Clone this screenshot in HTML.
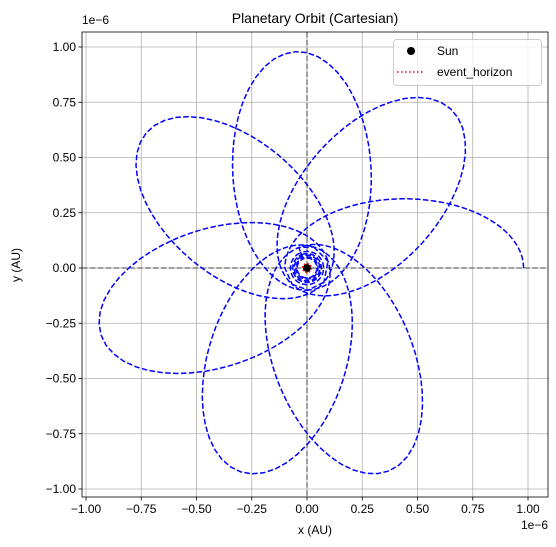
<!DOCTYPE html>
<html><head><meta charset="utf-8"><style>
html,body{margin:0;padding:0;background:#fff}
svg{display:block;font-family:"Liberation Sans","DejaVu Sans",sans-serif}
</style></head><body>
<svg id="chart" width="556" height="547" viewBox="0 0 556 547">
<g id="grid"></g>
<g id="ref"></g>
<g id="orbit"></g>
<g id="axes"></g>
<text x="315" y="23" font-size="14" text-anchor="middle">Planetary Orbit (Cartesian)</text>
<text x="315" y="534" font-size="12" text-anchor="middle">x (AU)</text>
<text transform="translate(20,265) rotate(-90)" font-size="12" text-anchor="middle">y (AU)</text>
<text x="82" y="24" font-size="12">1e−6</text>
<text x="548" y="529" font-size="12" text-anchor="end">1e−6</text>
<g>
<rect x="393.5" y="39.5" width="148" height="46" rx="3" fill="#fff" fill-opacity="0.8" stroke="#ccc"/>
<circle cx="411" cy="51" r="4" fill="#000"/>
<text x="437" y="55" font-size="12">Sun</text>
<line x1="397" y1="72" x2="425" y2="72" stroke="red" stroke-width="1.5" stroke-dasharray="1.5,2.5"/>
<text x="437" y="76" font-size="12">event_horizon</text>
</g>
</svg>
<script>
const ticks=[-1,-0.75,-0.5,-0.25,0,0.25,0.5,0.75,1];
const tickLabels=["−1.00","−0.75","−0.50","−0.25","0.00","0.25","0.50","0.75","1.00"];
const petalAngles=[0,48,93,140,198,252,292];
const petalApo=[0.98,0.97,0.98,0.95,0.98,0.97,0.99];
const periDist=0.1;
const loopRadii=[0.075,0.065,0.058,0.05,0.045];
const horizonRadius=0.02;
const L=82,R=548,T=32,B=497;
const sx=v=>307+v*221, sy=v=>268-v*221;
const NS="http://www.w3.org/2000/svg";
function mk(tag,attrs,parent){const e=document.createElementNS(NS,tag);for(const k in attrs)e.setAttribute(k,attrs[k]);parent.appendChild(e);return e;}
const grid=document.getElementById('grid'),axes=document.getElementById('axes'),ref=document.getElementById('ref'),orbit=document.getElementById('orbit');
ticks.forEach((t,i)=>{
 const gx=mk('line',{x1:sx(t),x2:sx(t),y1:T,y2:B,stroke:'#b0b0b0','stroke-width':0.8},grid);
 
 
 const gy=mk('line',{x1:L,x2:R,y1:sy(t),y2:sy(t),stroke:'#b0b0b0','stroke-width':0.8},grid);
 
 
 mk('line',{x1:sx(t),x2:sx(t),y1:B,y2:B+3.5,stroke:'#000','stroke-width':0.8},axes);
 mk('line',{x1:L,x2:L-3.5,y1:sy(t),y2:sy(t),stroke:'#000','stroke-width':0.8},axes);
 const xl=mk('text',{x:sx(t),y:B+16,'font-size':12,'text-anchor':'middle'},axes);xl.textContent=tickLabels[i];
 
 
 const yl=mk('text',{x:L-6,y:sy(t)+4,'font-size':12,'text-anchor':'end'},axes);yl.textContent=tickLabels[i];
 
 
});
const fr=mk('rect',{x:L,y:T,width:R-L,height:B-T,fill:'none',stroke:'#000','stroke-width':0.8},axes);


const h=mk('line',{x1:L,x2:R,y1:sy(0),y2:sy(0),stroke:'#808080','stroke-width':1.5,'stroke-dasharray':'5.5,2.4'},ref);


const v=mk('line',{x1:sx(0),x2:sx(0),y1:T,y2:B,stroke:'#808080','stroke-width':1.5,'stroke-dasharray':'5.5,2.4'},ref);


let pts=[];
petalAngles.forEach((ang,i)=>{
 const A=petalApo[i],q=periDist,a=(A+q)/2,e=(A-q)/(A+q);
 const start=i===0?0:-Math.PI;
 for(let k=0;k<=120;k++){
  const psi=start+(Math.PI-start)*k/120;
  const r=a*(1-e*e)/(1-e*Math.cos(psi));
  const phi=ang*Math.PI/180+psi;
  pts.push([sx(r*Math.cos(phi)),sy(r*Math.sin(phi))]);
 }
});
loopRadii.forEach((lr,i)=>{
 for(let k=0;k<=60;k++){const phi=Math.PI*2*k/60+Math.PI*(petalAngles[petalAngles.length-1]/180+1);
  pts.push([sx(lr*Math.cos(phi)),sy(lr*Math.sin(phi))]);}
});
const path=mk('path',{d:'M'+pts.map(p=>p[0].toFixed(1)+','+p[1].toFixed(1)).join('L'),fill:'none',stroke:'#0000ff','stroke-width':1.5,'stroke-dasharray':'5.5,2.4'},orbit);


const sun=mk('circle',{cx:sx(0),cy:sy(0),r:4,fill:'#000'},orbit);


const hz=mk('circle',{cx:sx(0),cy:sy(0),r:horizonRadius*221,fill:'none',stroke:'red','stroke-width':1.5,'stroke-dasharray':'1.5,2'},orbit);


</script>
</body></html>
